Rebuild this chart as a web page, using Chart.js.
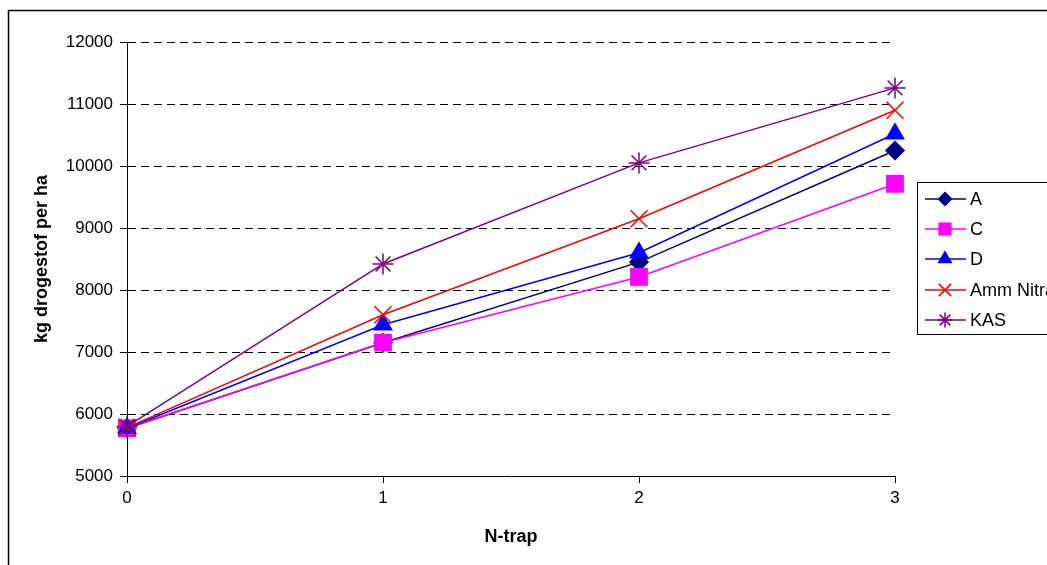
<!DOCTYPE html>
<html>
<head>
<script src="https://cdn.jsdelivr.net/npm/chart.js@4/dist/chart.umd.min.js"></script>
<style>
body{margin:0;background:#fff;}
#wrap{width:1047px;height:565px;}
</style>
</head>
<body>
<div id="wrap"><canvas id="myChart" width="1047" height="565"></canvas></div>
<script>
var nTrap=[0,1,2,3];
var serA=[5770,7150,8450,10250];
var serC=[5770,7150,8210,9710];
var serD=[5770,7440,8600,10520];
var serAmm=[5780,7600,9150,10900];
var serKAS=[5800,8420,10050,11260];
var names=["A","C","D","Amm Nitraat","KAS"];
var yTicks=[5000,6000,7000,8000,9000,10000,11000,12000];

var FONT="'Liberation Sans', Arial, sans-serif";

function pts(v){
  var out=[];
  for(var i=0;i<nTrap.length;i++) out.push({x:nTrap[i],y:v[i]});
  return out;
}

var styles=[
  {c:"#000080",p:"rectRot",r:9},
  {c:"#FF00FF",p:"rect",r:11.5},
  {c:"#0000FF",p:"triangle",r:10},
  {c:"#FF0000",p:"crossRot",r:12},
  {c:"#800080",p:"star",r:10.5}
];
var series=[serA,serC,serD,serAmm,serKAS];
var datasets=[];
for(var i=0;i<series.length;i++){
  datasets.push({
    label:names[i],
    data:pts(series[i]),
    borderColor:styles[i].c,
    backgroundColor:styles[i].c,
    borderWidth:1.5,
    pointStyle:styles[i].p,
    pointRadius:styles[i].r,
    pointBorderWidth:1.5,
    pointBorderColor:styles[i].c,
    pointBackgroundColor:styles[i].c,
    clip:false,
    order:series.length-i,   // later series on top, like Excel
    tension:0
  });
}

// frame + legend drawn by hand, clipped at the canvas edge like the original
var extras={
  id:"extras",
  beforeDraw:function(chart){
    var ctx=chart.ctx;
    ctx.save();
    ctx.fillStyle="#fff";
    ctx.fillRect(0,0,chart.width,chart.height);
    ctx.strokeStyle="#000";
    ctx.lineWidth=1.5;
    ctx.strokeRect(8.5,10.5,1200,700);
    ctx.restore();
  },
  afterDraw:function(chart){
    var ctx=chart.ctx;
    ctx.save();
    ctx.fillStyle="#fff";
    ctx.fillRect(917,182,200,152);
    ctx.strokeStyle="#000";
    ctx.lineWidth=1;
    ctx.strokeRect(917.5,182.5,200,152);
    var ys=[199,229,259,290,320];
    ctx.font="18px "+FONT;
    ctx.textBaseline="middle";
    for(var i=0;i<datasets.length;i++){
      var d=datasets[i];
      ctx.strokeStyle=d.borderColor;
      ctx.lineWidth=1.5;
      ctx.beginPath();ctx.moveTo(925,ys[i]);ctx.lineTo(966,ys[i]);ctx.stroke();
      ctx.fillStyle=d.borderColor;
      Chart.helpers.drawPoint(ctx,{pointStyle:d.pointStyle,radius:d.pointRadius*0.72,rotation:0,borderWidth:1.5},945,ys[i]);
      ctx.fillStyle="#000";
      ctx.fillText(d.label,970,ys[i]+1);
    }
    ctx.restore();
  }
};

new Chart("myChart",{
  type:"line",
  data:{datasets:datasets},
  plugins:[extras],
  options:{
    responsive:false,
    animation:false,
    layout:{padding:{top:42,right:152,left:0,bottom:0}},
    plugins:{legend:{display:false},tooltip:{enabled:false}},
    scales:{
      x:{
        type:"linear",min:0,max:3,
        afterFit:function(s){s.height=89;},
        afterBuildTicks:function(s){s.ticks=nTrap.map(function(v){return {value:v};});},
        grid:{drawOnChartArea:false,drawTicks:true,tickLength:7,color:"#000"},
        border:{color:"#000",width:1},
        ticks:{color:"#000",font:{family:FONT,size:17},padding:5,callback:function(v){return String(v);}},
        title:{display:true,text:"N-trap",color:"#000",font:{family:FONT,size:18,weight:"bold"},padding:{top:0,bottom:17}}
      },
      y:{
        min:5000,max:12000,
        afterFit:function(s){s.width=127;},
        afterBuildTicks:function(s){s.ticks=yTicks.map(function(v){return {value:v};});},
        grid:{
          drawOnChartArea:true,drawTicks:true,tickLength:7,
          color:function(c){return c.tick&&c.tick.value===5000?"rgba(0,0,0,0)":"#000";},
          tickColor:"#000",tickBorderDash:[]
        },
        border:{color:"#000",width:1,dash:[8,5]},
        ticks:{color:"#000",font:{family:FONT,size:17},padding:7,callback:function(v){return String(v);}},
        title:{display:true,text:"kg drogestof per ha",color:"#000",font:{family:FONT,size:18,weight:"bold"},padding:{top:31,bottom:0}}
      }
    }
  }
});
</script>
</body>
</html>
